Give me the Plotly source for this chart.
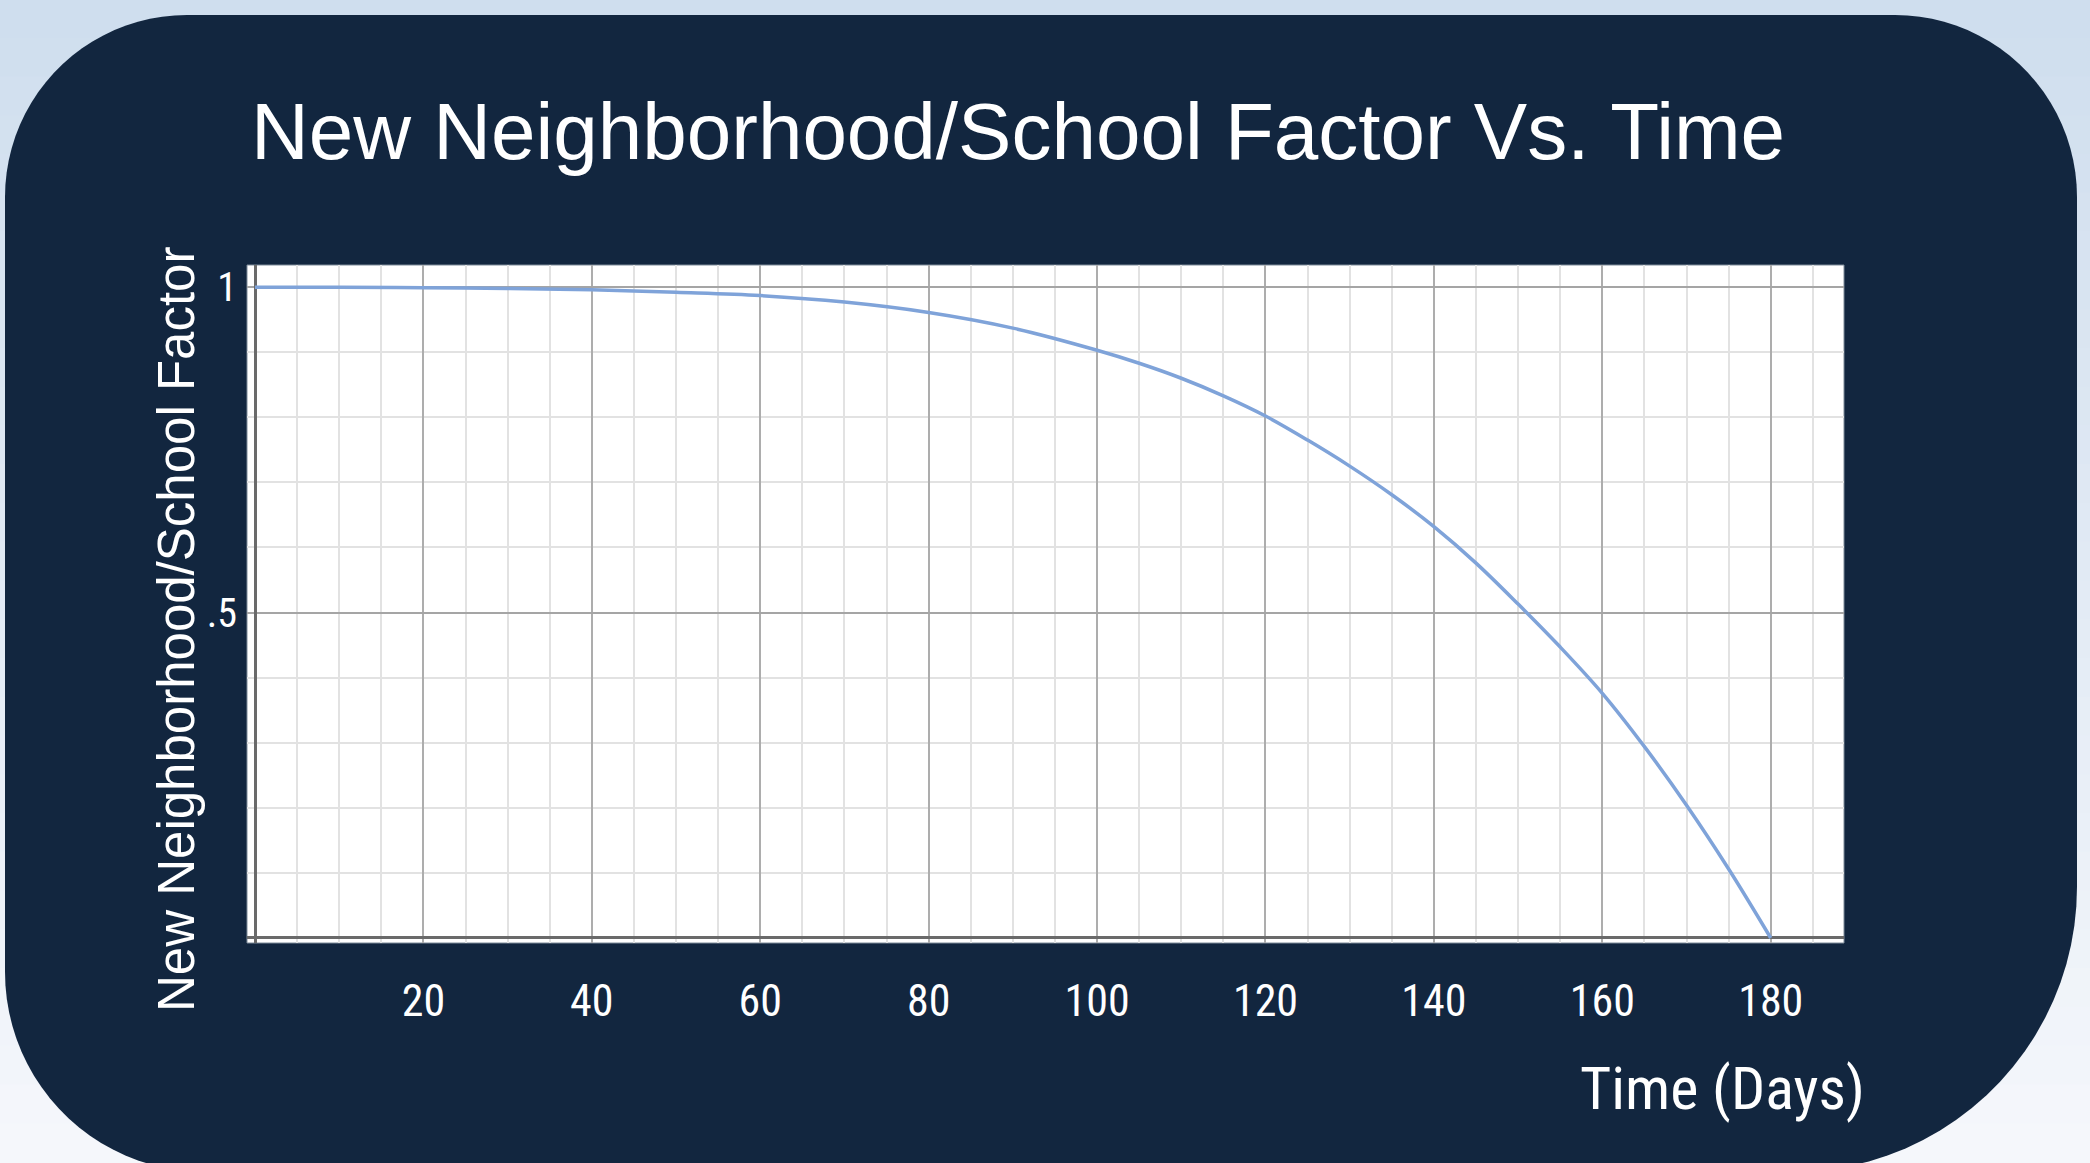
import numpy as np
import plotly.graph_objects as go

# Factor curve (days since move vs. factor)
days = [0, 10, 20, 30, 40, 50, 60, 70, 80, 90, 100, 105, 110, 115, 120, 125, 130, 135,
        140, 145, 150, 155, 160, 165, 170, 175, 180]
factor = [1.0, 1.0, 0.999, 0.998, 0.996, 0.992, 0.987, 0.977, 0.961, 0.937, 0.903, 0.883,
          0.860, 0.833, 0.802, 0.765, 0.725, 0.681, 0.632, 0.576, 0.513, 0.447, 0.376,
          0.294, 0.204, 0.106, 0.0]

x_ticks = [20, 40, 60, 80, 100, 120, 140, 160, 180]
x_minor = [v for v in range(5, 190, 5) if v % 20]
y_ticks = [0.5, 1.0]
y_ticktext = [".5", "1"]
y_minor = [0.1, 0.2, 0.3, 0.4, 0.6, 0.7, 0.8, 0.9]

title_text = "New Neighborhood/School Factor Vs. Time"
y_title = "New Neighborhood/School Factor"
x_title = "Time (Days)"

W, H = 2090, 1163
ML, MR, MT, MB = 247, 246, 265, 220
PW, PH = W - ML - MR, H - MT - MB

NAVY = "#12263f"
NARROW = "Liberation Sans Narrow, Arial Narrow, Roboto Condensed, Liberation Sans, sans-serif"
SANS = "Liberation Sans, Arial, Helvetica, sans-serif"


def px(x):
    return (x - ML) / PW


def py(y):
    return (H - MB - y) / PH


def rounded_panel(x0, y0, x1, y1, r_tl, r_tr, r_br, r_bl, n=24):
    pts = []

    def arc(cx, cy, r, a0, a1):
        for a in np.linspace(a0, a1, n):
            pts.append((cx + r * np.cos(a), cy + r * np.sin(a)))

    arc(x0 + r_tl, y0 + r_tl, r_tl, np.pi, 1.5 * np.pi)
    arc(x1 - r_tr, y0 + r_tr, r_tr, 1.5 * np.pi, 2 * np.pi)
    arc(x1 - r_br, y1 - r_br, r_br, 0, 0.5 * np.pi)
    arc(x0 + r_bl, y1 - r_bl, r_bl, 0.5 * np.pi, np.pi)
    d = "M " + " L ".join(f"{px(a):.5f},{py(b):.5f}" for a, b in pts) + " Z"
    return d


shapes = []
# soft light-blue backdrop, fading towards the bottom
top_c = np.array([207, 222, 238])
bot_c = np.array([246, 248, 252])
bands = 30
for i in range(bands):
    y0 = H * i / bands
    y1 = H * (i + 1) / bands
    c = top_c + (bot_c - top_c) * (i + 0.5) / bands
    shapes.append(dict(type="rect", xref="paper", yref="paper", layer="below",
                       x0=px(-10), x1=px(W + 10), y0=py(y0 - 1), y1=py(y1 + 1),
                       fillcolor=f"rgb({int(c[0])},{int(c[1])},{int(c[2])})",
                       line=dict(width=0)))

# dark rounded panel
shapes.append(dict(type="path", xref="paper", yref="paper", layer="below",
                   path=rounded_panel(5, 15, 2077, 1172, 182, 182, 285, 200),
                   fillcolor=NAVY, line=dict(width=0)))
# white chart area
shapes.append(dict(type="rect", xref="paper", yref="paper", layer="below",
                   x0=0, x1=1, y0=0, y1=1, fillcolor="white",
                   line=dict(color="#7d8a99", width=1)))

fig = go.Figure()
fig.add_trace(go.Scatter(
    x=days, y=factor, mode="lines",
    line=dict(color="#7fa3d9", width=3.5, shape="spline", smoothing=1.0),
    hoverinfo="x+y", showlegend=False,
))

fig.update_layout(
    width=W, height=H, autosize=False,
    margin=dict(l=ML, r=MR, t=MT, b=MB, pad=0),
    paper_bgcolor="#dfe8f3",
    plot_bgcolor="white",
    shapes=shapes,
    title=dict(text=title_text, x=1018 / W, xref="container", xanchor="center",
               y=1 - 131 / H, yref="container", yanchor="middle",
               font=dict(family=SANS, size=80, color="white")),
    xaxis=dict(
        range=[-0.95, 188.7], tickmode="array", tickvals=x_ticks,
        ticktext=[str(v) for v in x_ticks],
        showgrid=True, gridcolor="#adadad", gridwidth=2,
        zeroline=True, zerolinecolor="#6a6a6a", zerolinewidth=2.5,
        showline=False, ticks="", ticklabelstandoff=28,
        tickfont=dict(family=NARROW, size=44, color="white"),
        minor=dict(tickmode="array", tickvals=x_minor, showgrid=True,
                   gridcolor="#e2e2e2", gridwidth=2, ticks=""),
    ),
    yaxis=dict(
        range=[-0.0077, 1.034], tickmode="array", tickvals=y_ticks, ticktext=y_ticktext,
        showgrid=True, gridcolor="#a5a5a5", gridwidth=2,
        zeroline=True, zerolinecolor="#6a6a6a", zerolinewidth=2.5,
        showline=False, ticks="", ticklabelstandoff=9,
        tickfont=dict(family=NARROW, size=40, color="white"),
        minor=dict(tickmode="array", tickvals=y_minor, showgrid=True,
                   gridcolor="#e2e2e2", gridwidth=2, ticks=""),
    ),
    annotations=[
        dict(text=y_title, xref="paper", yref="paper", x=px(176), y=py(630),
             xanchor="center", yanchor="middle", textangle=-90, showarrow=False,
             font=dict(family=SANS, size=51, color="white")),
        dict(text=x_title, xref="paper", yref="paper", x=px(1722), y=py(1088),
             xanchor="center", yanchor="middle", showarrow=False,
             font=dict(family=NARROW, size=60, color="white")),
    ],
)

fig.write_html("out.html")
